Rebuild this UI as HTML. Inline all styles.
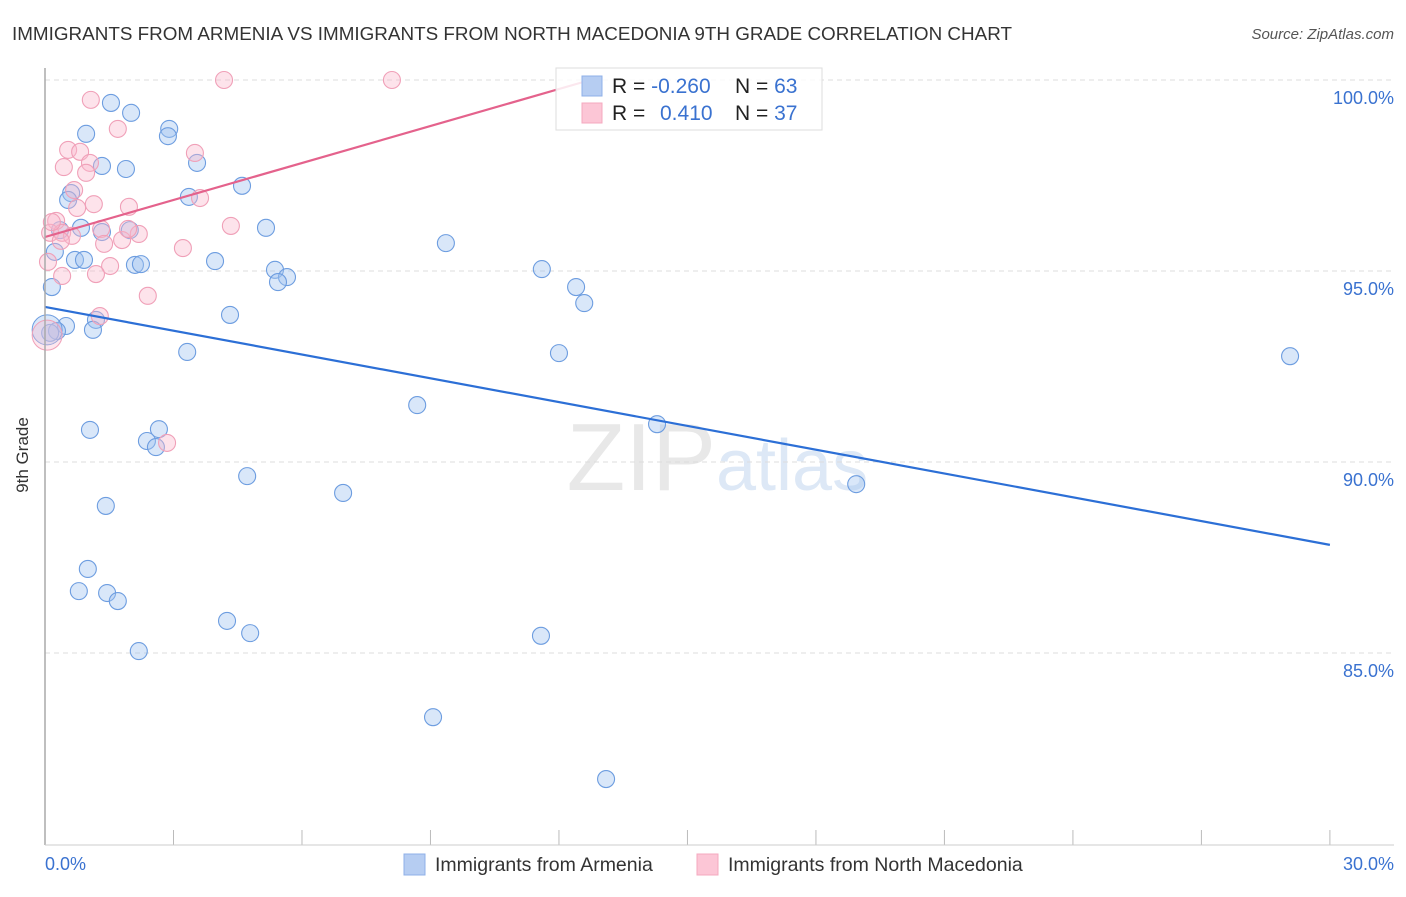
<!DOCTYPE html>
<html><head><meta charset="utf-8"><style>
body{margin:0;background:#fff;font-family:"Liberation Sans",sans-serif;}
svg text{font-family:"Liberation Sans",sans-serif;}
</style></head><body>
<svg id="chart" width="1406" height="892">
<text x="12" y="40" font-size="18" fill="#333" textLength="1000" lengthAdjust="spacingAndGlyphs">IMMIGRANTS FROM ARMENIA VS IMMIGRANTS FROM NORTH MACEDONIA 9TH GRADE CORRELATION CHART</text>
<text x="1394" y="39" font-size="15" fill="#555" font-style="italic" text-anchor="end">Source: ZipAtlas.com</text>
<text x="716" y="490" font-size="96" fill="#e8e8e8" text-anchor="end" font-family="Liberation Serif">ZIP</text>
<text x="716" y="490" font-size="72" fill="#dde8f6">atlas</text>
<g id="grid"></g><g id="marks"></g><g id="lines"></g>
<line x1="45" y1="68" x2="45" y2="845" stroke="#aaa" stroke-width="1.5"/>
<line x1="45" y1="845" x2="1394" y2="845" stroke="#ccc"/>
<text x="28" y="455" font-size="17" fill="#333" text-anchor="middle" transform="rotate(-90 28 455)">9th Grade</text>
<text x="45" y="870" font-size="18" fill="#3a72d0">0.0%</text>
<text x="1394" y="870" font-size="18" fill="#3a72d0" text-anchor="end">30.0%</text>
<g>
<rect x="556" y="68" width="266" height="62" fill="#fff" fill-opacity="0.85" stroke="#ddd"/>
<rect x="582" y="76" width="20" height="20" fill="#b6cdf2" stroke="#8fb0e8"/>
<rect x="582" y="103" width="20" height="20" fill="#fcc6d6" stroke="#f5a8bf"/>
<text x="612" y="93" font-size="21" fill="#222">R = <tspan fill="#3a72d0">-0.260</tspan></text>
<text x="735" y="93" font-size="21" fill="#222">N = <tspan fill="#3a72d0">63</tspan></text>
<text x="612" y="120" font-size="21" fill="#222">R = <tspan fill="#3a72d0" x="660">0.410</tspan></text>
<text x="735" y="120" font-size="21" fill="#222">N = <tspan fill="#3a72d0">37</tspan></text>
</g>
<g><rect x="404" y="854" width="21" height="21" fill="#b6cdf2" stroke="#8fb0e8"/><text x="435" y="871" font-size="19.5" fill="#333">Immigrants from Armenia</text></g>
<g><rect x="697" y="854" width="21" height="21" fill="#fcc6d6" stroke="#f5a8bf"/><text x="728" y="871" font-size="19.5" fill="#333">Immigrants from North Macedonia</text></g>
</svg>
<script>
const yTicks=[100,95,90,85];
const yTickLabels=["100.0%","95.0%","90.0%","85.0%"];
const xTicks=[0,3,6,9,12,15,18,21,24,27,30];
const blueX=[1.54,2.01,0.96,2.90,2.87,1.89,1.33,3.55,0.61,0.54,3.36,4.60,5.16,0.84,0.35,1.33,1.98,9.36,0.23,0.70,0.91,2.10,2.24,3.97,5.37,5.65,5.44,11.60,0.16,12.40,12.59,4.32,1.19,0.49,1.12,0.28,0.12,3.32,12.00,29.07,8.69,14.29,1.05,2.66,2.38,2.59,4.72,6.96,18.94,1.42,1.00,0.79,1.45,1.70,4.25,4.79,11.58,2.19,9.06,13.10];
const blueY=[99.40,99.14,98.59,98.72,98.53,97.67,97.75,97.83,97.04,96.86,96.94,97.23,96.13,96.13,96.07,96.02,96.07,95.73,95.50,95.29,95.29,95.16,95.18,95.26,95.03,94.84,94.71,95.05,94.58,94.58,94.16,93.85,93.72,93.56,93.46,93.43,93.38,92.88,92.85,92.77,91.49,90.99,90.84,90.86,90.55,90.39,89.63,89.19,89.42,88.85,87.20,86.62,86.57,86.36,85.84,85.52,85.45,85.05,83.32,81.70];
const pinkX=[4.18,8.10,1.07,1.70,0.54,0.82,3.50,1.05,0.44,0.96,0.68,3.62,1.14,0.75,1.96,0.26,4.34,0.12,0.40,1.31,0.63,1.80,2.19,1.38,3.22,0.37,0.07,1.52,0.40,1.19,2.40,1.28,2.85,0.16,1.94];
const pinkY=[100.0,100.0,99.48,98.72,98.17,98.12,98.09,97.83,97.72,97.57,97.12,96.91,96.75,96.65,96.68,96.31,96.18,96.0,96.0,96.10,95.92,95.81,95.97,95.71,95.60,95.79,95.24,95.13,94.87,94.92,94.35,93.82,90.50,96.28,96.10];
const bigX=[0.05,0.05];
const bigY=[93.46,93.32];
const blueLine=[0,94.06,30,87.83];
const pinkLine=[0,95.89,12.73,100];
const NS="http://www.w3.org/2000/svg";
const sx=v=>45+v*42.83;
const sy=v=>80+(100-v)*38.2;
function mk(tag,attrs,parent){const e=document.createElementNS(NS,tag);for(const k in attrs)e.setAttribute(k,attrs[k]);document.getElementById(parent).appendChild(e);return e;}
yTicks.forEach((t,i)=>{
 const l=mk('line',{x1:45,x2:1394,y1:sy(t),y2:sy(t),stroke:'#ddd','stroke-dasharray':'5,4'},'grid');
 
 
 const tx=mk('text',{x:1394,y:sy(t)+24,'font-size':18,fill:'#3a72d0','text-anchor':'end'},'grid');
 tx.textContent=yTickLabels[i];
 
 
});
xTicks.forEach(t=>{
 const l=mk('line',{x1:sx(t),x2:sx(t),y1:830,y2:845,stroke:'#bbb'},'grid');
 
 
});
blueX.forEach((x,i)=>{
 const c=mk('circle',{cx:sx(x),cy:sy(blueY[i]),r:8.5,fill:'rgba(160,195,240,0.4)',stroke:'#6d9de0','stroke-width':1.1},'marks');
 
 
});
pinkX.forEach((x,i)=>{
 const c=mk('circle',{cx:sx(x),cy:sy(pinkY[i]),r:8.5,fill:'rgba(250,185,205,0.4)',stroke:'#f0a0b8','stroke-width':1.1},'marks');
 
 
});
bigX.forEach((x,i)=>{
 const c=mk('circle',{cx:sx(x),cy:sy(bigY[i]),r:15,fill:i?'rgba(250,185,205,0.35)':'rgba(160,195,240,0.4)',stroke:i?'#f0a0b8':'#6d9de0'},'marks');
 
 
});
const bl=mk('line',{x1:sx(blueLine[0]),y1:sy(blueLine[1]),x2:sx(blueLine[2]),y2:sy(blueLine[3]),stroke:'#2c6fd6','stroke-width':2.2},'lines');


const pl=mk('line',{x1:sx(pinkLine[0]),y1:sy(pinkLine[1]),x2:sx(pinkLine[2]),y2:sy(pinkLine[3]),stroke:'#e4628c','stroke-width':2.2},'lines');


</script>
</body></html>
